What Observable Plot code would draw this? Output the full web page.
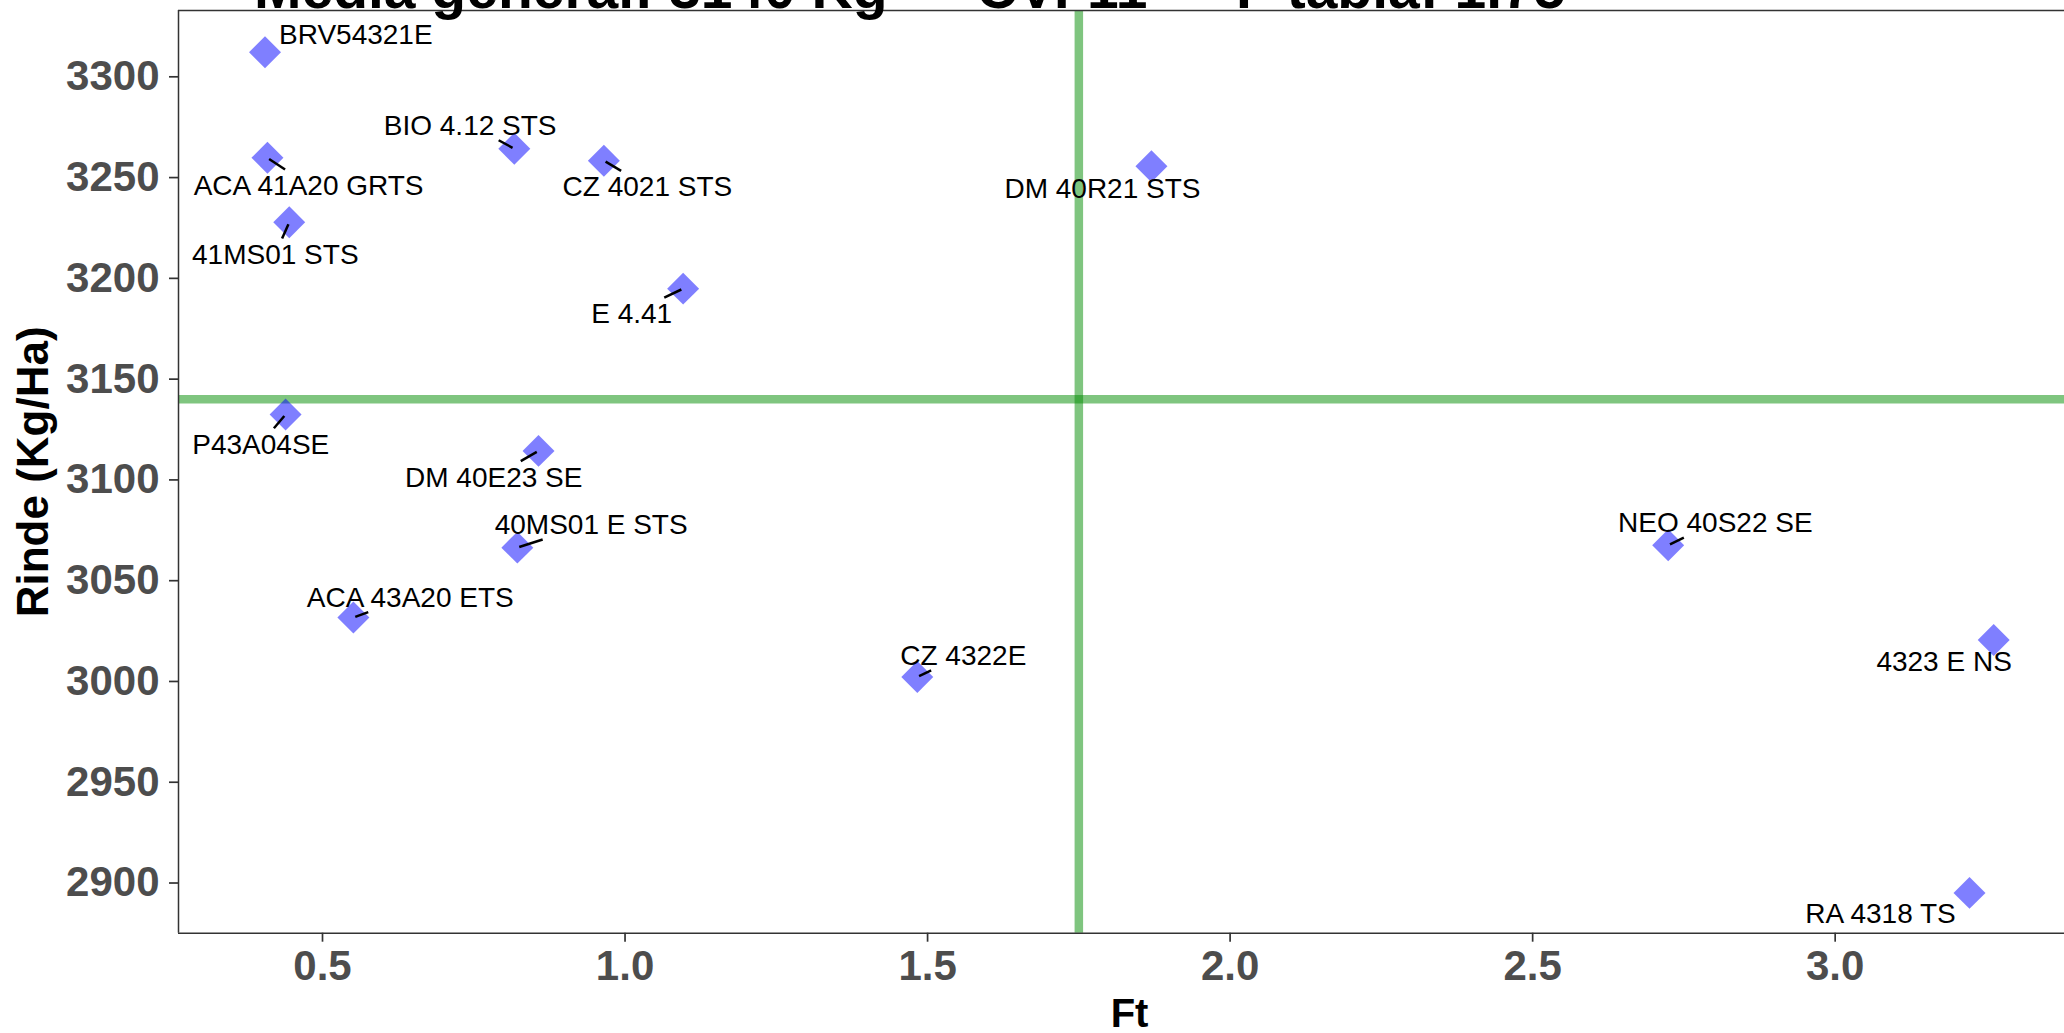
<!DOCTYPE html>
<html><head><meta charset="utf-8">
<script src="https://cdn.jsdelivr.net/npm/d3@7"></script>
<script src="https://cdn.jsdelivr.net/npm/@observablehq/plot@0.6"></script>
<style>
html,body{margin:0;padding:0;background:#fff;overflow:hidden;}
#wrap{position:relative;width:2064px;height:1033px;}
#title{position:absolute;left:254px;top:-40px;font-family:"Liberation Sans",Arial,sans-serif;font-weight:bold;font-size:57px;line-height:57px;white-space:pre;color:#000;}
</style></head><body>
<div id="wrap"><div id="chart"></div><div id="title"></div></div>
<script>
// ---- data ----
const cultivars = ["BRV54321E","ACA 41A20 GRTS","BIO 4.12 STS","CZ 4021 STS","41MS01 STS","E 4.41","P43A04SE","DM 40E23 SE","40MS01 E STS","ACA 43A20 ETS","DM 40R21 STS","CZ 4322E","NEO 40S22 SE","4323 E NS","RA 4318 TS"];
const ft    = [0.405,0.409,0.817,0.965,0.445,1.096,0.439,0.857,0.822,0.551,1.870,1.483,2.724,3.262,3.222];
const rinde = [3312.2,3259.8,3264.3,3258.4,3227.8,3194.9,3132.5,3114.4,3066.4,3031.7,3255.6,3002.2,3067.6,3020.6,2895.1];
// repelled label positions (data units) and whether a leader segment is drawn
const labelFt    = [0.555,0.477,0.744,1.037,0.422,1.011,0.398,0.783,0.944,0.645,1.789,1.559,2.802,3.180,3.075];
const labelRinde = [3320.7,3245.8,3275.7,3245.1,3211.5,3182.2,3117.4,3101.1,3077.6,3041.6,3244.3,3012.7,3078.6,3009.8,2884.7];
const hasLeader  = [false,true,true,true,true,true,true,true,true,true,false,true,true,false,false];
const mediaGeneral = 3140;
const cv = 11;
const fTabla = 1.75;
const xTicks = [0.5,1.0,1.5,2.0,2.5,3.0];
const yTicks = [2900,2950,3000,3050,3100,3150,3200,3250,3300];
const xDomain = [0.262, 3.379];
const yDomain = [2875.1, 3332.9];

// ---- layout ----
const FONT = '"Liberation Sans", Arial, sans-serif';
const W = 2064, H = 1033, MT = 10, ML = 178, MR = 0, MB = H - 932.7;
const LABEL_SIZE = 28;

const data = cultivars.map((c, i) => ({name: c, ft: ft[i], rinde: rinde[i], lx: labelFt[i], ly: labelRinde[i], leader: hasLeader[i]}));

const base = {
  width: W, height: H, marginTop: MT, marginLeft: ML, marginRight: MR, marginBottom: MB,
  x: {domain: xDomain, label: null},
  y: {domain: yDomain, label: null}
};
const probe = Plot.plot({...base, marks: [Plot.dot(data, {x: "ft", y: "rinde"})]});
const sx = probe.scale("x"), sy = probe.scale("y");

// leader segments (ggrepel-like): from point toward label centre, ending at padded label box
const ctx = document.createElement("canvas").getContext("2d");
ctx.font = `${LABEL_SIZE}px "Liberation Sans"`;
const PAD = 5.5;
const segs = [];
for (const d of data) {
  if (!d.leader) continue;
  const px = sx.apply(d.ft), py = sy.apply(d.rinde);
  const cx = sx.apply(d.lx), ay = sy.apply(d.ly);
  const w = ctx.measureText(d.name).width;
  const baseline = ay + 0.32 * LABEL_SIZE;
  const cy = baseline - 0.358 * LABEL_SIZE;
  const x0 = cx - w / 2 - PAD, x1 = cx + w / 2 + PAD;
  const y0 = baseline - 0.716 * LABEL_SIZE - PAD, y1 = baseline + PAD;
  const dx = cx - px, dy = cy - py;
  let tx = -Infinity, ty = -Infinity;
  if (dx !== 0) tx = Math.min((x0 - px) / dx, (x1 - px) / dx);
  if (dy !== 0) ty = Math.min((y0 - py) / dy, (y1 - py) / dy);
  const t = Math.max(0, Math.max(tx, ty));
  const qx = px + t * dx, qy = py + t * dy;
  const L = Math.hypot(dx, dy);
  const sxp = px + 2 * dx / L, syp = py + 2 * dy / L;
  segs.push({x1: sx.invert(sxp), y1: sy.invert(syp), x2: sx.invert(qx), y2: sy.invert(qy)});
}

const plot = Plot.plot({
  ...base,
  style: {fontFamily: FONT, background: "white", overflow: "visible"},
  marks: [
    Plot.ruleY([mediaGeneral], {stroke: "#008B00", strokeOpacity: 0.5, strokeWidth: 8.5}),
    Plot.ruleX([fTabla], {stroke: "#008B00", strokeOpacity: 0.5, strokeWidth: 8.5}),
    Plot.ruleY(yDomain, {stroke: "#333333", strokeWidth: 1.5}),
    Plot.ruleX([xDomain[0]], {stroke: "#333333", strokeWidth: 1.5}),
    Plot.axisX({ticks: xTicks, tickFormat: d => d.toFixed(1), tickSize: 9, tickPadding: 8,
      fontSize: 42, fontWeight: "bold", fill: "#4d4d4d", stroke: "#333333", strokeWidth: 1.7, label: null}),
    Plot.axisY({ticks: yTicks, tickFormat: d => String(d), tickSize: 9, tickPadding: 10,
      fontSize: 42, fontWeight: "bold", fill: "#4d4d4d", stroke: "#333333", strokeWidth: 1.7, label: null}),
    Plot.dot(data, {x: "ft", y: "rinde", symbol: "diamond2", r: 14.4, fill: "blue", fillOpacity: 0.5, stroke: null}),
    Plot.link(segs, {x1: "x1", y1: "y1", x2: "x2", y2: "y2", stroke: "black", strokeWidth: 2.5}),
    Plot.text(data, {x: "lx", y: "ly", text: "name", fontSize: LABEL_SIZE, fill: "black", textAnchor: "middle", lineAnchor: "middle"}),
    Plot.text(["Ft"], {text: d => d, frameAnchor: "bottom", dx: 8, dy: 81, textAnchor: "middle", lineAnchor: "middle",
      fontSize: 40, fontWeight: "bold", fill: "black"}),
    Plot.text(["Rinde (Kg/Ha)"], {text: d => d, frameAnchor: "left", dx: -145, rotate: -90, textAnchor: "middle", lineAnchor: "middle",
      fontSize: 44, fontWeight: "bold", fill: "black"})
  ]
});
document.getElementById("chart").appendChild(plot);
document.getElementById("title").textContent = `Media general: ${mediaGeneral} Kg — CV: ${cv} — F tabla: ${fTabla}`;
</script>
</body></html>
